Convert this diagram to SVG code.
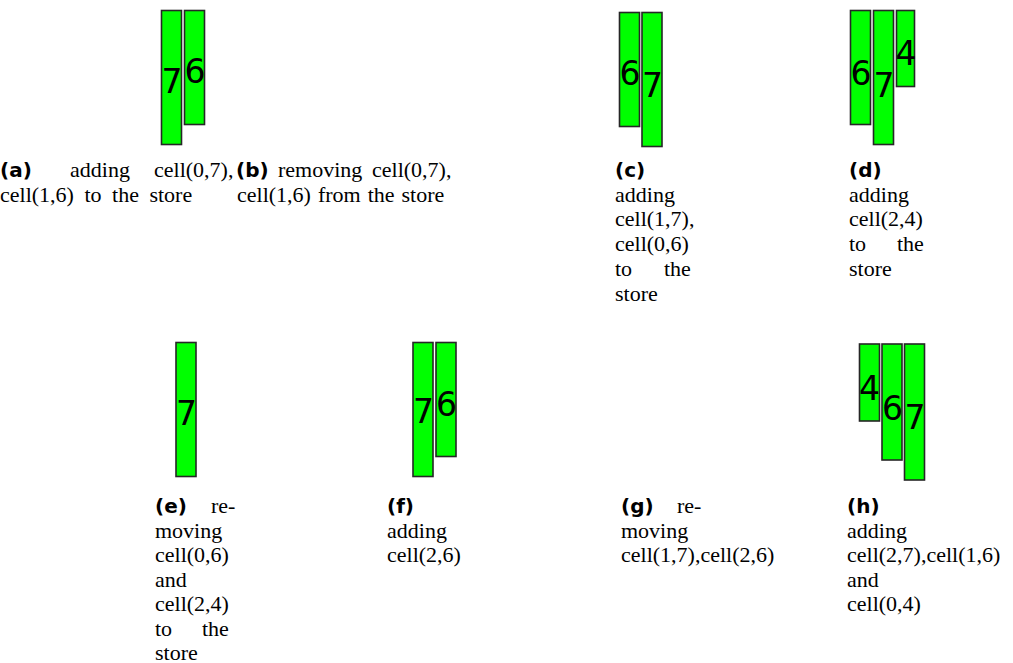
<svg xmlns="http://www.w3.org/2000/svg" width="1013" height="663" viewBox="0 0 1013 663">
<style>
.bar{fill:#00ff00;stroke:#262626;stroke-width:1.6}
.dg{font-family:"DejaVu Sans",sans-serif;font-size:33px;fill:#000}
.cap{font-family:"Liberation Serif","Times New Roman",serif;font-size:22px;fill:#000}
.lbl{font-family:"DejaVu Sans",sans-serif;font-weight:bold;font-size:20px;fill:#000}
</style>
<rect width="1013" height="663" fill="#fff"/>
<g id="connectors"/>
<!-- (a) -->
<g id="a">
<rect class="bar" x="161.5" y="10.5" width="20" height="134"/>
<text class="dg" x="161.5" y="93">7</text>
<rect class="bar" x="184.5" y="10.5" width="20" height="114"/>
<text class="dg" x="184.5" y="83">6</text>
<text class="lbl" x="0" y="177">(a)</text>
<text class="cap" x="70" y="177">adding</text>
<text class="cap" x="154" y="177">cell(0,7),</text>
<text class="cap" x="0" y="202" word-spacing="5">cell(1,6) to the store</text>
</g>
<!-- (b) -->
<g id="b">
<text class="lbl" x="236" y="177">(b)</text>
<text class="cap" x="278" y="177">removing</text>
<text class="cap" x="372" y="177">cell(0,7),</text>
<text class="cap" x="237" y="202" word-spacing="1.5">cell(1,6) from the store</text>
</g>
<!-- (c) -->
<g id="c">
<rect class="bar" x="619.5" y="12.5" width="20" height="114"/>
<text class="dg" x="619.5" y="85">6</text>
<rect class="bar" x="642" y="12.5" width="20" height="134"/>
<text class="dg" x="642" y="97">7</text>
<text class="lbl" x="615" y="177">(c)</text>
<text class="cap" x="615" y="202">adding</text>
<text class="cap" x="615" y="226">cell(1,7),</text>
<text class="cap" x="615" y="251">cell(0,6)</text>
<text class="cap" x="615" y="276">to</text>
<text class="cap" x="664" y="276">the</text>
<text class="cap" x="615" y="301">store</text>
</g>
<!-- (d) -->
<g id="d">
<rect class="bar" x="850.5" y="10.5" width="20" height="114"/>
<text class="dg" x="850.5" y="85">6</text>
<rect class="bar" x="873.5" y="10.5" width="20" height="134"/>
<text class="dg" x="873.5" y="97">7</text>
<rect class="bar" x="896.5" y="10.5" width="18" height="76"/>
<text class="dg" x="895.5" y="65">4</text>
<text class="lbl" x="849" y="177">(d)</text>
<text class="cap" x="849" y="202">adding</text>
<text class="cap" x="849" y="226">cell(2,4)</text>
<text class="cap" x="849" y="251">to</text>
<text class="cap" x="897" y="251">the</text>
<text class="cap" x="849" y="276">store</text>
</g>
<!-- (e) -->
<g id="e">
<rect class="bar" x="176" y="342.5" width="20" height="134"/>
<text class="dg" x="176" y="425">7</text>
<text class="lbl" x="155" y="513">(e)</text>
<text class="cap" x="211" y="513">re-</text>
<text class="cap" x="155" y="537.5">moving</text>
<text class="cap" x="155" y="562">cell(0,6)</text>
<text class="cap" x="155" y="586.5">and</text>
<text class="cap" x="155" y="611">cell(2,4)</text>
<text class="cap" x="155" y="635.5">to</text>
<text class="cap" x="202" y="635.5">the</text>
<text class="cap" x="155" y="659.5">store</text>
</g>
<!-- (f) -->
<g id="f">
<rect class="bar" x="413" y="342.5" width="20" height="134"/>
<text class="dg" x="413" y="423">7</text>
<rect class="bar" x="436" y="342.5" width="20" height="114"/>
<text class="dg" x="436" y="416">6</text>
<text class="lbl" x="387" y="513">(f)</text>
<text class="cap" x="387" y="537.5">adding</text>
<text class="cap" x="387" y="562">cell(2,6)</text>
</g>
<!-- (g) -->
<g id="g">
<text class="lbl" x="621" y="513">(g)</text>
<text class="cap" x="677" y="513">re-</text>
<text class="cap" x="621" y="537.5">moving</text>
<text class="cap" x="621" y="562">cell(1,7),cell(2,6)</text>
</g>
<!-- (h) -->
<g id="h">
<rect class="bar" x="859.5" y="344" width="20" height="77"/>
<text class="dg" x="859" y="400">4</text>
<rect class="bar" x="882" y="344" width="20" height="116"/>
<text class="dg" x="882" y="420">6</text>
<rect class="bar" x="904.5" y="344" width="20" height="136"/>
<text class="dg" x="904.5" y="429">7</text>
<text class="lbl" x="847" y="513">(h)</text>
<text class="cap" x="847" y="537.5">adding</text>
<text class="cap" x="847" y="562">cell(2,7),cell(1,6)</text>
<text class="cap" x="847" y="586.5">and</text>
<text class="cap" x="847" y="611">cell(0,4)</text>
</g>
</svg>
